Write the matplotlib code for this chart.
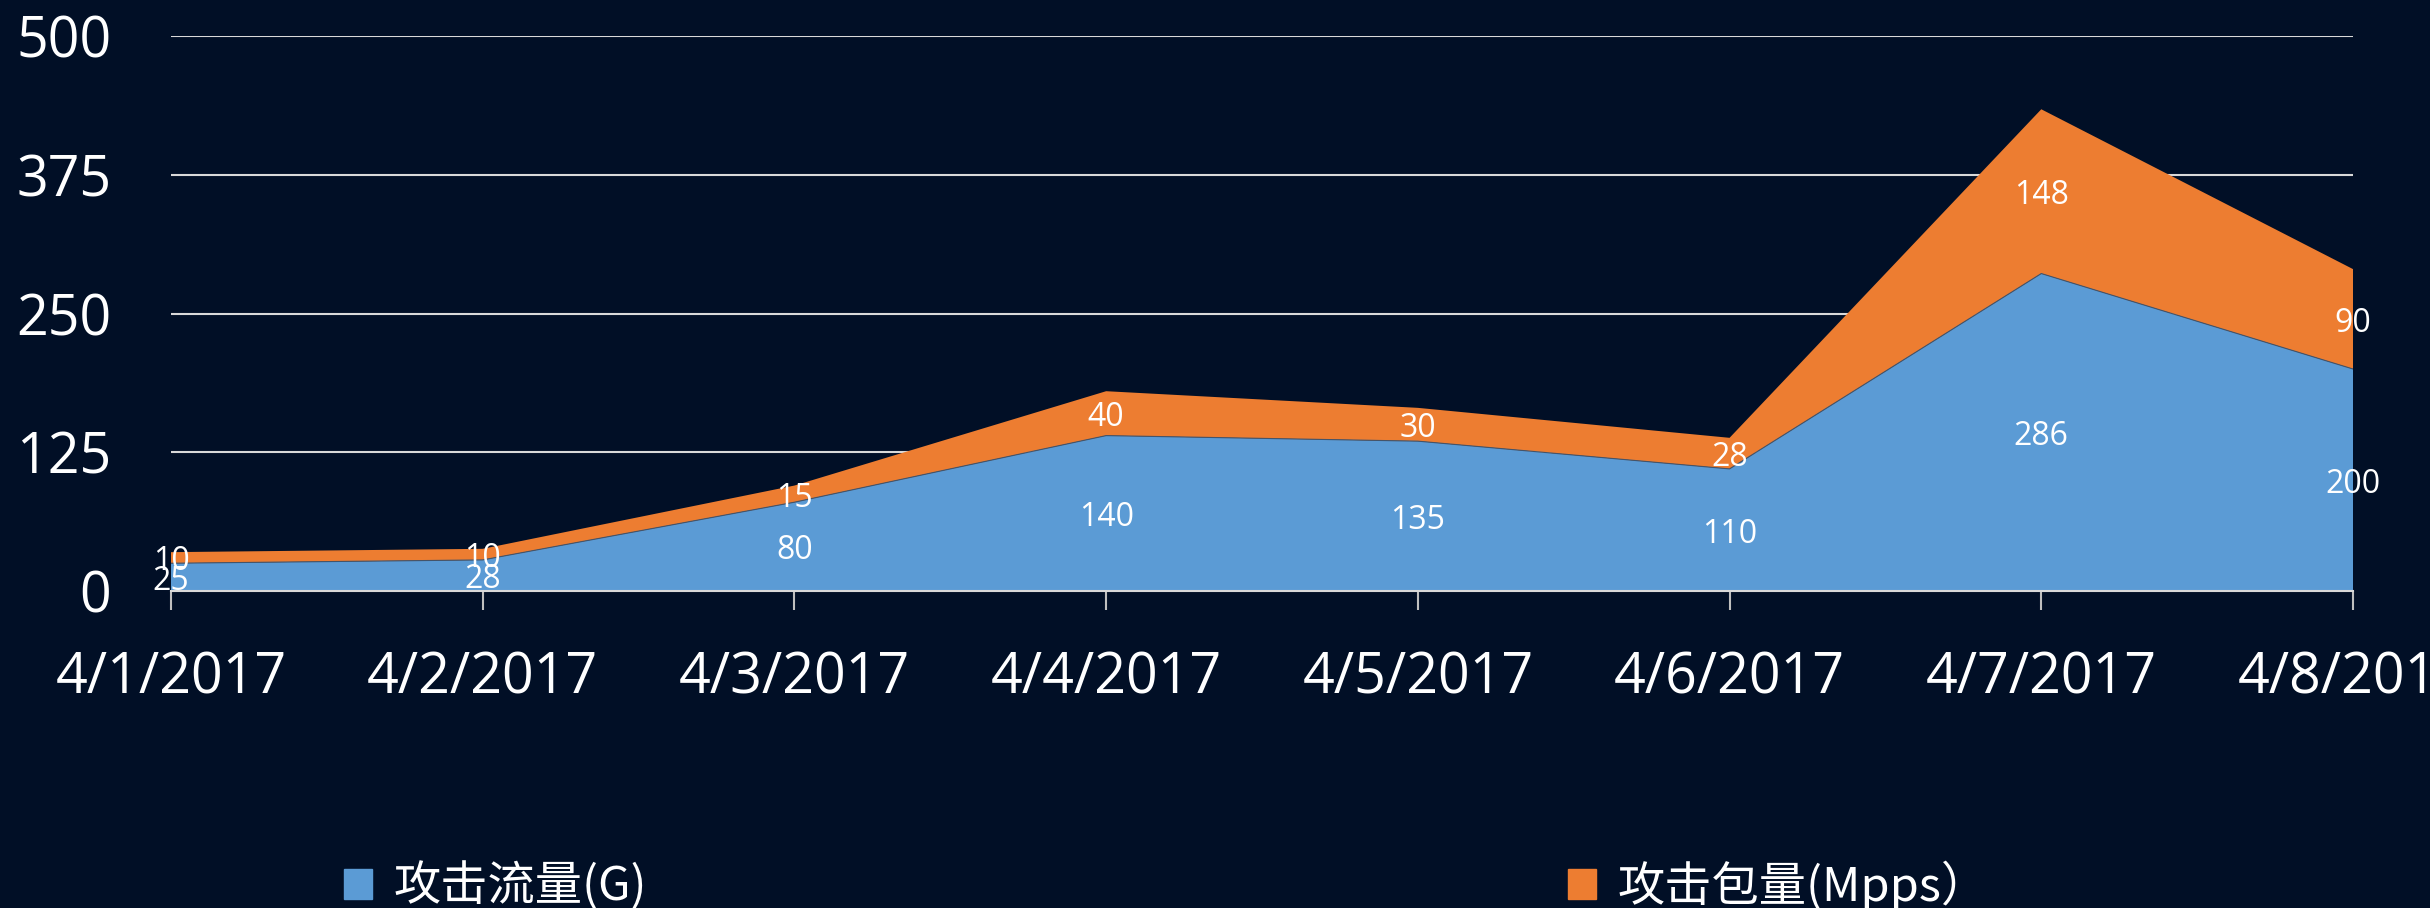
import numpy as np
import matplotlib.pyplot as plt
from matplotlib.patches import Patch

plt.rcParams['font.family'] = ['Open Sans', 'Noto Sans CJK SC', 'DejaVu Sans']

#%% Data:
dates = ["4/1/2017", "4/2/2017", "4/3/2017", "4/4/2017",
         "4/5/2017", "4/6/2017", "4/7/2017", "4/8/2017"]
traffic = [25, 28, 80, 140, 135, 110, 286, 200]    # 攻击流量(G)
packets = [10, 10, 15, 40, 30, 28, 148, 90]        # 攻击包量(Mpps)
series_names = ["攻击流量(G)", "攻击包量(Mpps）"]
yticks = [0, 125, 250, 375, 500]

BG = '#010f26'
BLUE = '#5b9bd5'
ORANGE = '#ed7d31'
GRID = '#d9d9d9'

#%% Plot:
fig = plt.figure(figsize=(24.3, 9.08), dpi=100, facecolor=BG)
ax = fig.add_axes([171/2430, 1 - 591/908, (2353-171)/2430, (591-36)/908])
ax.set_facecolor(BG)

x = np.arange(len(dates))
t = np.array(traffic)
p = np.array(packets)
ax.stackplot(x, t, p, colors=[BLUE, ORANGE], zorder=2)
ax.plot(x, t, color='#44546a', lw=0.8, zorder=3)

# Data labels in the middle of each band (a bit below, like the original):
for i in range(len(x)):
    ax.annotate(str(traffic[i]), (x[i], t[i] / 2), xytext=(0, -3),
                textcoords='offset points', color='white', fontsize=23,
                ha='center', va='center', zorder=4, annotation_clip=False)
    ax.annotate(str(packets[i]), (x[i], t[i] + p[i] / 2), xytext=(0, -3),
                textcoords='offset points', color='white', fontsize=23,
                ha='center', va='center', zorder=4, annotation_clip=False)

ax.set_xlim(0, len(dates) - 1)
ax.set_ylim(0, 500)
ax.set_yticks(yticks)
ax.set_xticks(x)
ax.set_xticklabels(dates)
ax.yaxis.grid(True, color=GRID, lw=1.5)
ax.set_axisbelow(True)
for s in ['top', 'right', 'left']:
    ax.spines[s].set_visible(False)
ax.spines['bottom'].set_color(GRID)
ax.spines['bottom'].set_linewidth(1.5)
ax.spines['bottom'].set_zorder(5)
ax.tick_params(axis='y', length=0, pad=43, labelsize=40, colors='white')
ax.tick_params(axis='x', length=14, width=1.5, color='#bfbfbf', pad=29,
               labelsize=40, labelcolor='white')

# Legend:
handles = [Patch(color=BLUE), Patch(color=ORANGE)]
fig.legend(handles, series_names, loc='center left',
           bbox_to_anchor=(344/2430, 1 - 886/908), ncol=2, frameon=False,
           labelcolor='white', handlelength=0.6, handleheight=0.6,
           handletextpad=0.45, columnspacing=19.5, borderpad=0, borderaxespad=0,
           prop={'family': ['Noto Sans CJK SC', 'DejaVu Sans'], 'size': 34})

plt.savefig('out.png', dpi=100, facecolor=BG)
